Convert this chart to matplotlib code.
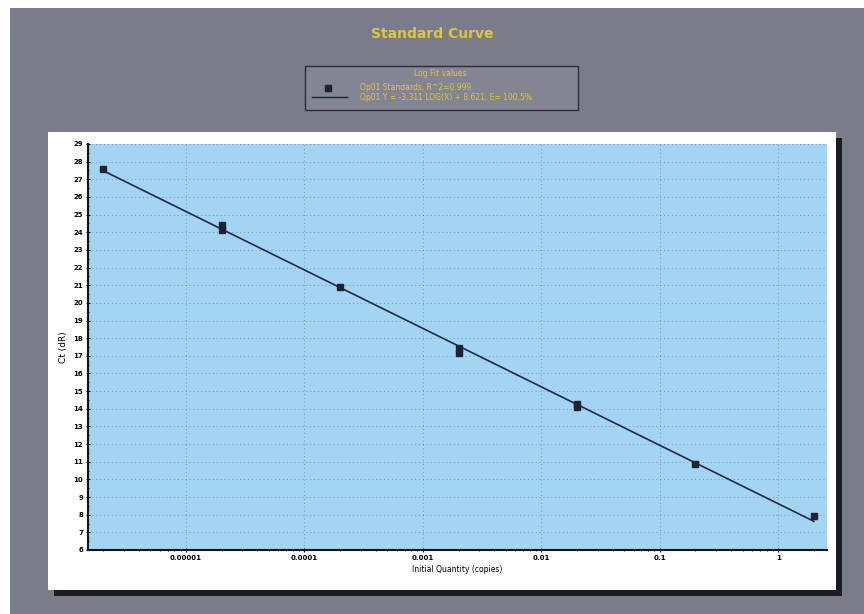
import numpy as np
import matplotlib
matplotlib.use('Agg')
import matplotlib.pyplot as plt
from matplotlib.patches import Rectangle
from matplotlib.ticker import FixedLocator, LogLocator, NullFormatter, MultipleLocator

# standards: starting quantity and Ct of each replicate
quantity = [2e-6, 2e-5, 2e-5, 2e-4, 2e-3, 2e-3, 2e-2, 2e-2, 2e-1, 2.0]
ct = [27.6, 24.4, 24.12, 20.92, 17.46, 17.18, 14.26, 14.12, 10.9, 7.92]

x_ticks = [1e-5, 1e-4, 1e-3, 1e-2, 1e-1, 1]
x_tick_labels = ['0.00001', '0.0001', '0.001', '0.01', '0.1', '1']
y_ticks = list(range(6, 30))

# log fit of the standards
logq = np.log10(quantity)
slope, intercept = np.polyfit(logq, ct, 1)
pred = slope * logq + intercept
r2 = 1 - np.sum((np.array(ct) - pred) ** 2) / np.sum((np.array(ct) - np.mean(ct)) ** 2)
eff = (10 ** (-1 / slope) - 1) * 100

bg = '#7a7d89'
yellow = '#dcc73a'

fig = plt.figure(figsize=(8.64, 6.14), dpi=100)
fig.patch.set_facecolor('white')

# outer gray panel, white plot card and its shadow
fig.patches.append(Rectangle((10 / 864, 0), 1, 1 - 8 / 614, transform=fig.transFigure,
                             facecolor=bg, edgecolor='none', zorder=-3))
fig.patches.append(Rectangle((54 / 864, 1 - 596 / 614), 788 / 864, 458 / 614,
                             transform=fig.transFigure, facecolor='#1c1c22',
                             edgecolor='none', zorder=-2))
fig.patches.append(Rectangle((48 / 864, 1 - 590 / 614), 788 / 864, 458 / 614,
                             transform=fig.transFigure, facecolor='white',
                             edgecolor='none', zorder=-1))

fig.text(0.5, 1 - 34 / 614, 'Standard Curve', ha='center', va='center',
         color=yellow, fontsize=10, fontweight='bold')

# legend box
fig.patches.append(Rectangle((305 / 864, 1 - 110 / 614), 273 / 864, 44 / 614,
                             transform=fig.transFigure, facecolor='#838692',
                             edgecolor='#2a2c38', linewidth=1.0))
fig.text(440 / 864, 1 - 74 / 614, 'Log Fit values', ha='center', va='center',
         color=yellow, fontsize=5.5)
fig.text(360 / 864, 1 - 88 / 614, f'Op01 Standards, R^2={r2:.3f}', ha='left',
         va='center', color=yellow, fontsize=5.5)
fig.text(360 / 864, 1 - 98 / 614,
         f'Op01 Y = {slope:.3f} LOG(X) + {intercept:.3f}, E= {eff:.1f}%',
         ha='left', va='center', color=yellow, fontsize=5.5)
fig.add_artist(plt.Line2D([328 / 864], [1 - 88 / 614], marker='s', markersize=4,
                          color='#1c2433', transform=fig.transFigure))
fig.add_artist(plt.Line2D([312 / 864, 347 / 864], [1 - 97 / 614, 1 - 97 / 614],
                          color='#1c2433', linewidth=1, transform=fig.transFigure))

ax = fig.add_axes([88 / 864, 1 - 550 / 614, 739 / 864, 406 / 614])
ax.set_facecolor('#a3d4f4')
ax.set_xscale('log')
ax.set_xlim(1.49e-6, 2.58)
ax.set_ylim(6, 29)

ax.plot([min(quantity), max(quantity)],
        [slope * np.log10(min(quantity)) + intercept, slope * np.log10(max(quantity)) + intercept],
        color='#1c2a48', linewidth=1.2, zorder=3)
ax.plot(quantity, ct, 's', color='#1c2433', markersize=5, zorder=4)

ax.xaxis.set_major_locator(FixedLocator(x_ticks))
ax.set_xticklabels(x_tick_labels)
ax.xaxis.set_minor_locator(LogLocator(base=10, subs=np.arange(2, 10)))
ax.xaxis.set_minor_formatter(NullFormatter())
ax.yaxis.set_major_locator(FixedLocator(y_ticks))
ax.yaxis.set_minor_locator(MultipleLocator(0.5))

ax.grid(True, which='major', color='#4a5a76', linestyle=(0, (1, 3)), linewidth=0.7, alpha=0.5)
for s in ['top', 'right']:
    ax.spines[s].set_visible(False)
for s in ['left', 'bottom']:
    ax.spines[s].set_linewidth(1.5)
    ax.spines[s].set_color('#111111')
ax.tick_params(which='major', length=3, width=0.8, labelsize=5, direction='inout', pad=2)
ax.tick_params(which='minor', length=2, width=0.6, direction='inout')
for lbl in ax.get_xticklabels() + ax.get_yticklabels():
    lbl.set_fontweight('bold')

ax.set_xlabel('Initial Quantity (copies)', fontsize=5.5, labelpad=3)
ax.set_ylabel('Ct (dR)', fontsize=6.5, labelpad=4)

fig.savefig('out.png', dpi=100, facecolor=fig.get_facecolor())
